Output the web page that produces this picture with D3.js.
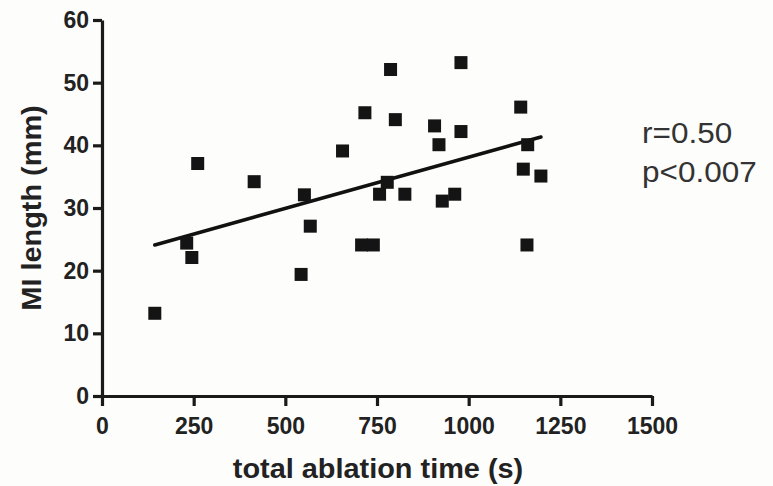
<!DOCTYPE html>
<html>
<head>
<meta charset="utf-8">
<script src="https://cdn.jsdelivr.net/npm/d3@7"></script>
<style>
  body { margin: 0; background: #fdfdfb; }
  svg { display: block; font-family: "Liberation Sans", Arial, sans-serif; }
</style>
</head>
<body>
<script>
// ablation time (s) and MI length (mm) for each lesion
let ablationTime = [144, 231, 245, 261, 415, 543, 552, 568, 656, 708, 717, 740, 757, 778,
    787, 800, 826, 907, 919, 928, 962, 979, 979, 1142, 1149, 1159, 1161, 1197];
let miLength = [13.2, 24.4, 22.1, 37.1, 34.2, 19.4, 32.1, 27.1, 39.1, 24.1, 45.2, 24.1, 32.2, 34.1,
    52.1, 44.1, 32.2, 43.1, 40.1, 31.1, 32.2, 53.2, 42.2, 46.1, 36.2, 24.1, 40.1, 35.1];

let xTicks = [0, 250, 500, 750, 1000, 1250, 1500];
let yTicks = [0, 10, 20, 30, 40, 50, 60];

// linear fit shown on the chart
let fitSlope = 0.01637;
let fitIntercept = 21.74;
let statLines = ["r=0.50", "p<0.007"];

function main() {
    let svg = d3.select("body").append("svg")
        .attr("width", 773)
        .attr("height", 486);

    let xScale = d3.scaleLinear().domain([0, 1500]).range([102, 652]);
    let yScale = d3.scaleLinear().domain([0, 60]).range([396, 20]);

    let xAxis = d3.axisBottom(xScale).tickValues(xTicks).tickFormat(d3.format("d"))
        .tickSize(10).tickSizeOuter(0).tickPadding(12);
    let yAxis = d3.axisLeft(yScale).tickValues(yTicks).tickFormat(d3.format("d"))
        .tickSize(9).tickSizeOuter(0).tickPadding(4);

    let gx = svg.append("g")
        .attr("transform", `translate(0,${396})`)
        .call(xAxis);
    let gy = svg.append("g")
        .attr("transform", `translate(${102},0)`)
        .call(yAxis);

    [gx, gy].forEach(g => {
        g.attr("font-size", null).attr("font-family", null);
        g.select(".domain").attr("stroke", "#1a1a1a").attr("stroke-width", 3.2);
        g.selectAll(".tick line").attr("stroke", "#1a1a1a").attr("stroke-width", 3.2);
        g.selectAll(".tick text")
            .attr("fill", "#222")
            .style("font-size", "23px")
            .style("font-weight", "bold");
    });

    // regression line
    let xMin = d3.min(ablationTime), xMax = d3.max(ablationTime);
    svg.append("line")
        .attr("x1", xScale(xMin))
        .attr("y1", yScale(fitIntercept + fitSlope * xMin))
        .attr("x2", xScale(xMax))
        .attr("y2", yScale(fitIntercept + fitSlope * xMax))
        .attr("stroke", "#111")
        .attr("stroke-width", 3.6)
        .attr("stroke-linecap", "round");

    let size = 13;
    svg.selectAll("rect.pt")
        .data(ablationTime)
        .enter()
        .append("rect")
        .attr("class", "pt")
        .attr("x", (d, i) => xScale(d) - size / 2)
        .attr("y", (d, i) => yScale(miLength[i]) - size / 2)
        .attr("width", size)
        .attr("height", size)
        .attr("fill", "#141414");

    svg.append("text")
        .attr("transform", "translate(378, 478) scale(1.07,1)")
        .attr("text-anchor", "middle")
        .style("font-size", "27px")
        .style("font-weight", "bold")
        .attr("fill", "#222")
        .text("total ablation time (s)");

    svg.append("text")
        .attr("transform", "translate(41, 208) rotate(-90) scale(1.07,1)")
        .attr("text-anchor", "middle")
        .style("font-size", "27px")
        .style("font-weight", "bold")
        .attr("fill", "#222")
        .text("MI length (mm)");

    svg.selectAll("text.stat")
        .data(statLines)
        .enter()
        .append("text")
        .attr("class", "stat")
        .attr("transform", (d, i) => `translate(642, ${143 + i * 39}) scale(1.05,1)`)
        .style("font-size", "30px")
        .attr("fill", "#333")
        .text(d => d);
}

main()
</script>
</body>
</html>
